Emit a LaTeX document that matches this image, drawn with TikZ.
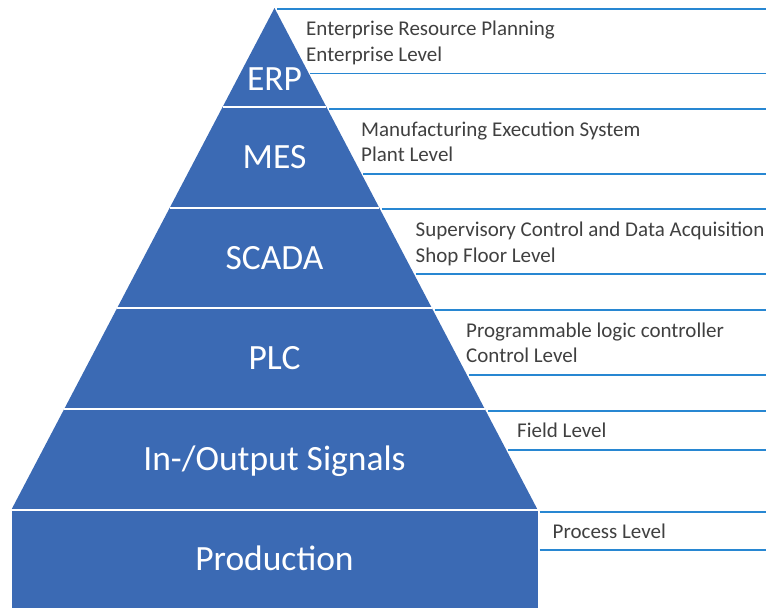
\documentclass[tikz,border=0pt]{standalone}
\usepackage{fontspec}
\setmainfont{Carlito}
\definecolor{pyrblue}{RGB}{59,106,180}
\definecolor{rulblue}{RGB}{40,135,210}
\definecolor{txtgray}{RGB}{64,64,64}
\begin{document}
\begin{tikzpicture}[x=1pt,y=-1pt,
  layer/.style={fill=pyrblue,draw=none},
  gap/.style={draw=white,line width=2pt},
  rul/.style={draw=rulblue,line width=1.4pt},
  biglab/.style={anchor=base,text=white,font=\fontsize{35.5}{40}\selectfont,inner sep=0pt},
  desc/.style={anchor=base west,text=txtgray,font=\fontsize{21}{25.5}\selectfont,inner sep=0pt,align=left}]
\useasboundingbox (0,0) rectangle (766,608);
% pyramid
\fill[layer] (274.5,8) -- (537.5,509.5) -- (11.5,509.5) -- cycle;
\fill[layer] (11.5,509.5) rectangle (537.5,608);
\draw[gap] (222.58,107) -- (326.42,107);
\draw[gap] (169.88,207.5) -- (379.12,207.5);
\draw[gap] (117.17,308) -- (431.83,308);
\draw[gap] (64.47,408.5) -- (484.53,408.5);
\draw[gap] (10,509.5) -- (539,509.5);
% rules
\coordinate (r1) at (277,9);     \coordinate (e1) at (766,9);
\coordinate (r2) at (310,73.5);  \coordinate (e2) at (766,73.5);
\coordinate (r3) at (329,109);   \coordinate (e3) at (766,109);
\coordinate (r4) at (363,174);   \coordinate (e4) at (766,174);
\coordinate (r5) at (381.5,209); \coordinate (e5) at (766,209);
\coordinate (r6) at (415.5,274); \coordinate (e6) at (766,274);
\coordinate (r7) at (434.5,310); \coordinate (e7) at (766,310);
\coordinate (r8) at (468.5,375); \coordinate (e8) at (766,375);
\coordinate (r9) at (487.5,411); \coordinate (e9) at (766,411);
\coordinate (r10) at (508,450);  \coordinate (e10) at (766,450);
\coordinate (r11) at (539.5,512);\coordinate (e11) at (766,512);
\coordinate (r12) at (539.5,550);\coordinate (e12) at (766,550);
\foreach \i in {1,...,12} {\draw[rul] (r\i) -- (e\i);}
% big labels
\node[biglab] (erp) at (274.5,90) {ERP};
\node[biglab] (mes) at (274.5,168) {MES};
\node[biglab] (scada) at (274.5,269) {SCADA};
\node[biglab] (plc) at (274.5,369) {PLC};
\node[biglab] (io) at (274.5,470) {In-/Output Signals};
\node[biglab] (prod) at (274.5,570) {Production};
% descriptions
\node[desc] (d1) at (306,35.5) {Enterprise Resource Planning};
\node[desc] (d1b) at (306,61) {Enterprise Level};
\node[desc] (d2) at (361,136) {Manufacturing Execution System};
\node[desc] (d2b) at (361,161.5) {Plant Level};
\node[desc] (d3) at (415.5,236.5) {Supervisory Control and Data Acquisition};
\node[desc] (d3b) at (415.5,262) {Shop Floor Level};
\node[desc] (d4) at (466,337) {Programmable logic controller};
\node[desc] (d4b) at (466,362.5) {Control Level};
\node[desc] (d5) at (517,437) {Field Level};
\node[desc] (d6) at (552.5,538) {Process Level};
\end{tikzpicture}
\end{document}
